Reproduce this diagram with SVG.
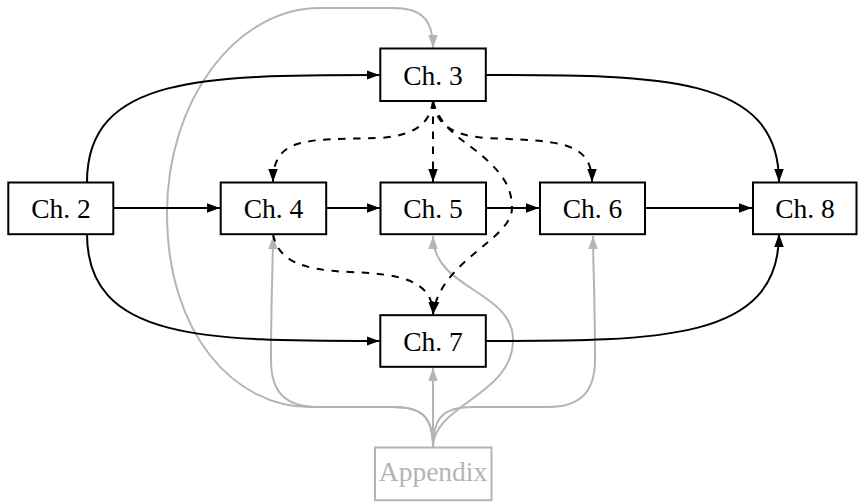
<svg xmlns="http://www.w3.org/2000/svg" width="858" height="502" viewBox="0 0 858 502">
<style>
.box{fill:#fff;stroke:#000;stroke-width:2}
.gbox{fill:#fff;stroke:#b4b4b4;stroke-width:2}
.lbl{font-family:"Liberation Serif",serif;font-size:27.5px;fill:#000;text-anchor:middle}
.glbl{font-family:"Liberation Serif",serif;font-size:27.5px;fill:#b4b4b4;text-anchor:middle}
.e{fill:none;stroke:#000;stroke-width:2;marker-end:url(#ab)}
.d{fill:none;stroke:#000;stroke-width:2;stroke-dasharray:7.5 7.5;marker-end:url(#ab)}
.g{fill:none;stroke:#b4b4b4;stroke-width:2;marker-end:url(#ag)}
</style>
<defs>
<marker id="ab" markerUnits="userSpaceOnUse" markerWidth="13" markerHeight="10" refX="13" refY="4.75" orient="auto" viewBox="0 0 13 9.5">
<path d="M0,0 L13,4.75 L0,9.5 z" fill="#000"/>
</marker>
<marker id="ag" markerUnits="userSpaceOnUse" markerWidth="13" markerHeight="10" refX="13" refY="4.75" orient="auto" viewBox="0 0 13 9.5">
<path d="M0,0 L13,4.75 L0,9.5 z" fill="#b4b4b4"/>
</marker>
</defs>
<g id="connectors">
<g id="gray-connectors">
<path class="g" d="M433,447 C433,415 420,407 393,407 L310,407 C235,407 167,335 167,213 C167,101 235.5,8 320,8 L393,8 C420,8 433,18 433,48"/>
<path class="g" d="M433,447 C433,415 420,407 393,407 L318,407 C285,407 271,392 271,360 C271,300 273,260 273,236"/>
<path class="g" d="M433,447 L433,368"/>
<path class="g" d="M433,447 C433,405 513,395 513,340 C513,290 433,290 433,236"/>
<path class="g" d="M433,447 C433,415 446,407 473,407 L548,407 C580,407 595,392 595,360 C595,300 593,260 593,236"/>
</g>
<path class="e" d="M114,208 L220,208"/>
<path class="e" d="M327,208 L380,208"/>
<path class="e" d="M487,208 L539,208"/>
<path class="e" d="M646,208 L752,208"/>
<path class="e" d="M87,182 C87,75 206,75 379.5,75"/>
<path class="e" d="M486.5,75 C660,75 779,75 779,182"/>
<path class="e" d="M87,234 C87,341 206,341 379.5,341"/>
<path class="e" d="M486.5,341 C660,341 779,341 779,234"/>
<path class="d" d="M433,101.5 C430,120 420,135 380,138 C310,140 273,135 273,182"/>
<path class="d" d="M433,101.5 L433,182"/>
<path class="d" d="M433,101.5 C436,120 446,135 486,138 C556,141 592,140 592,182"/>
<path class="d" d="M433,101.5 C440,125 455,135 475,150 C500,170 512,185 512,208 C512,240 440,260 433,314.5"/>
<path class="d" d="M273,234 C278,260 300,270 350,272 C400,274 433,280 433,314.5"/>
</g>
<g id="ch2"><rect class="box" x="8.3" y="182.5" width="105" height="51.7"/><text class="lbl" x="61" y="218">Ch. 2</text></g>
<g id="ch3"><rect class="box" x="380.3" y="48.5" width="105.5" height="52.5"/><text class="lbl" x="433" y="85">Ch. 3</text></g>
<g id="ch4"><rect class="box" x="220.7" y="182.5" width="105.5" height="51.7"/><text class="lbl" x="273.5" y="218">Ch. 4</text></g>
<g id="ch5"><rect class="box" x="380.5" y="182.5" width="105.5" height="51.7"/><text class="lbl" x="433" y="218">Ch. 5</text></g>
<g id="ch6"><rect class="box" x="540" y="182.5" width="105" height="51.7"/><text class="lbl" x="592.5" y="218">Ch. 6</text></g>
<g id="ch8"><rect class="box" x="753" y="182.5" width="103.5" height="51.7"/><text class="lbl" x="805" y="218">Ch. 8</text></g>
<g id="ch7"><rect class="box" x="380.3" y="315.2" width="105.5" height="51.6"/><text class="lbl" x="433" y="351">Ch. 7</text></g>
<g id="appendix"><rect class="gbox" x="375" y="447.5" width="116.5" height="52.7"/><text class="glbl" x="433" y="481">Appendix</text></g>
</svg>
